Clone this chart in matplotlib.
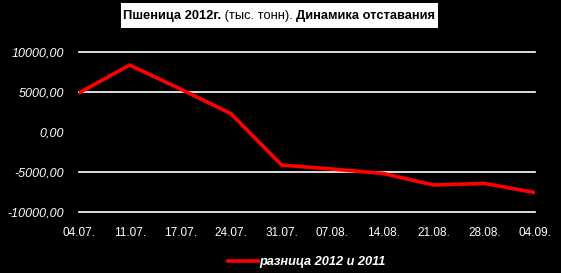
import matplotlib.pyplot as plt
from matplotlib.lines import Line2D

plt.rcParams['font.family'] = ['Liberation Sans', 'DejaVu Sans']

# даты и разница 2012 и 2011 (тыс. тонн)
dates = ['04.07.', '11.07.', '17.07.', '24.07.', '31.07.',
         '07.08.', '14.08.', '21.08.', '28.08.', '04.09.']
diff = [4900, 8400, 5400, 2300, -4150, -4650, -5200, -6650, -6450, -7600]
yticks = [-10000, -5000, 0, 5000, 10000]
ylabels = ['-10000,00', '-5000,00', '0,00', '5000,00', '10000,00']

W, H = 561, 273
fig = plt.figure(figsize=(W / 100, H / 100), dpi=100, facecolor='black')
ax = fig.add_axes([79 / W, 1 - 211.7 / H, (535 - 79) / W, (211.7 - 52.3) / H])
ax.set_facecolor('black')

# сетка без нулевой линии
for v in yticks:
    if v != 0:
        ax.axhline(v, color='white', lw=1.2, zorder=1, clip_on=False)

x = list(range(len(dates)))
ax.plot(x, diff, color='#ff0000', lw=2.6, zorder=3, solid_joinstyle='miter')

ax.set_xlim(0, len(dates) - 1)
ax.set_ylim(-10000, 10000)
ax.set_xticks(x)
ax.set_xticklabels(dates, color='white', fontsize=8.5)
ax.tick_params(length=0, pad=11)
ax.set_yticks(yticks)
ax.set_yticklabels(ylabels, color='white', fontsize=9, style='italic')
ax.tick_params(axis='y', pad=11)
for s in ax.spines.values():
    s.set_visible(False)

# заголовок в белой рамке
fig.patches.append(plt.Rectangle((121 / W, 1 - 28 / H), (438 - 121) / W, 25 / H,
                                 transform=fig.transFigure, facecolor='white',
                                 edgecolor='none'))
parts = [('Пшеница 2012г.', 'bold'), (' (тыс. тонн). ', 'normal'),
         ('Динамика отставания', 'bold')]
renderer = fig.canvas.get_renderer()

def place_title(size):
    xpos = 123 / W
    texts = []
    for txt, w in parts:
        t = fig.text(xpos, 1 - 15.5 / H, txt, color='black', fontsize=size,
                     fontweight=w, va='center', ha='left')
        texts.append(t)
        xpos += t.get_window_extent(renderer).width / W
    return texts, xpos * W - 123

texts, width = place_title(10)
for t in texts:
    t.remove()
place_title(10 * 312 / width)

# легенда
fig.legend([Line2D([0], [0], color='#ff0000', lw=2.6)], ['разница 2012 и 2011'],
           loc='center left', bbox_to_anchor=(216 / W, 1 - 262 / H), frameon=False,
           handlelength=2.4, handletextpad=0.1, labelcolor='white',
           prop={'weight': 'bold', 'style': 'italic', 'size': 9.2})

fig.savefig('out.png', dpi=100, facecolor='black')
